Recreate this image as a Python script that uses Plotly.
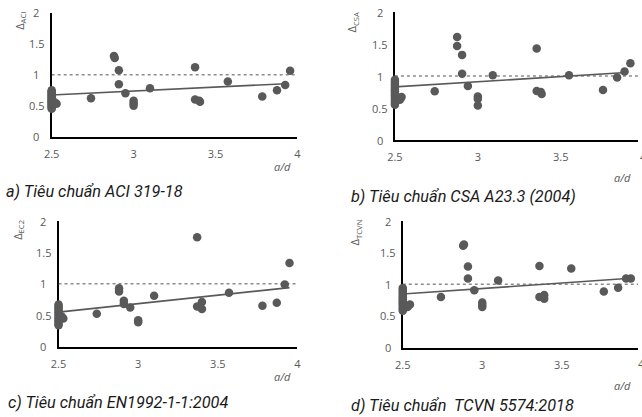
import plotly.graph_objects as go

W, H = 642, 417

# ---------------- data ----------------
A_X = [2.5]*16 + [2.52, 2.53,
       2.74, 2.88, 2.885, 2.91, 2.91, 2.95, 3.0, 3.0, 3.0, 3.10, 3.375, 3.375, 3.40, 3.405, 3.575, 3.785, 3.875, 3.925, 3.955]
A_Y = [0.75, 0.73, 0.71, 0.69, 0.67, 0.65, 0.63, 0.61, 0.59, 0.57, 0.55, 0.53, 0.51, 0.49, 0.47, 0.45, 0.55, 0.53,
       0.62, 1.30, 1.27, 1.07, 0.845, 0.70, 0.58, 0.54, 0.50, 0.78, 1.12, 0.60, 0.58, 0.565, 0.89, 0.65, 0.75, 0.835, 1.065]

B_X = [2.5]*14 + [2.54, 2.53,
       2.74, 2.875, 2.875, 2.905, 2.905, 2.94, 3.0, 3.0, 3.0, 3.09, 3.355, 3.355, 3.38, 3.385, 3.55, 3.755, 3.84, 3.885, 3.92]
B_Y = [0.94, 0.91, 0.88, 0.85, 0.82, 0.79, 0.76, 0.73, 0.70, 0.67, 0.64, 0.61, 0.58, 0.55, 0.67, 0.63,
       0.76, 1.61, 1.47, 1.33, 1.035, 0.845, 0.68, 0.64, 0.54, 1.01, 1.43, 0.765, 0.75, 0.72, 1.01, 0.78, 0.975, 1.07, 1.20]

C_X = [2.5]*12 + [2.53, 2.52,
       2.74, 2.88, 2.88, 2.91, 2.91, 2.95, 3.0, 3.0, 3.10, 3.37, 3.37, 3.40, 3.40, 3.57, 3.78, 3.87, 3.92, 3.95]
C_Y = [0.67, 0.64, 0.61, 0.58, 0.55, 0.52, 0.49, 0.46, 0.43, 0.40, 0.37, 0.34, 0.45, 0.48,
       0.525, 0.93, 0.88, 0.73, 0.68, 0.625, 0.42, 0.39, 0.81, 1.74, 0.64, 0.71, 0.60, 0.86, 0.65, 0.70, 0.99, 1.33]

D_X = [2.5]*13 + [2.545, 2.53,
       2.74, 2.88, 2.885, 2.91, 2.91, 2.95, 3.0, 3.0, 3.0, 3.10, 3.36, 3.36, 3.39, 3.39, 3.56, 3.765, 3.855, 3.905, 3.935]
D_Y = [0.94, 0.91, 0.88, 0.85, 0.82, 0.79, 0.76, 0.73, 0.70, 0.67, 0.64, 0.61, 0.58, 0.68, 0.64,
       0.80, 1.61, 1.63, 1.28, 1.09, 0.905, 0.71, 0.67, 0.64, 1.06, 1.29, 0.80, 0.83, 0.77, 1.25, 0.885, 0.945, 1.09, 1.09]

TREND_A_X, TREND_A_Y = [2.5, 3.93], [0.672, 0.855]
TREND_B_X, TREND_B_Y = [2.5, 3.87], [0.83, 1.05]
TREND_C_X, TREND_C_Y = [2.5, 3.95], [0.55, 0.94]
TREND_D_X, TREND_D_Y = [2.5, 3.91], [0.845, 1.09]

REF_X, REF_Y = [2.5, 4.0], [1.0, 1.0]

X_TICKS = [2.5, 3, 3.5, 4]
X_TICK_TEXT = ["2.5", "3", "3.5", "4"]
Y_TICKS = [0, 0.5, 1, 1.5, 2]
Y_TICK_TEXT = ["0", "0.5", "1", "1.5", "2"]

Y_TITLES = ["Δ<sub>ACI</sub>", "Δ<sub>CSA</sub>", "Δ<sub>EC2</sub>", "Δ<sub>TCVN</sub>"]
X_TITLE = "a/d"
CAPTIONS = ["a) Tiêu chuẩn ACI 319-18", "b) Tiêu chuẩn CSA A23.3 (2004)",
            "c) Tiêu chuẩn EN1992-1-1:2004", "d) Tiêu chuẩn  TCVN 5574:2018"]

# ---------------- layout geometry (pixels) ----------------
PANELS = [
    dict(xl=44.5, xr=295.0, xmax=4.0, yb=136.7, yt=12.7),
    dict(xl=394.3, xr=642.0, xmax=3.966, yb=140.0, yt=12.0),
    dict(xl=51.5, xr=295.0, xmax=4.0, yb=346.7, yt=221.0),
    dict(xl=402.3, xr=642.0, xmax=3.98, yb=347.5, yt=221.0),
]
YTITLE_POS = [(12, 21), (351, 22), (10, 230), (354, 232)]
XTITLE_POS = [(280, 167), (626, 177), (280, 376), (626, 385)]
CAPTION_POS = [(-4, 191), (347, 197), (-2, 402), (347, 405)]

MARK = "#595959"
TICK_COLOR = "#595959"
TICK_FONT = "Open Sans, Noto Sans, sans-serif"
CAP_FONT = "Roboto, Liberation Sans, sans-serif"

def px(x):
    return x / W

def py(y):
    return 1 - y / H

fig = go.Figure()
series = [(A_X, A_Y, TREND_A_X, TREND_A_Y), (B_X, B_Y, TREND_B_X, TREND_B_Y),
          (C_X, C_Y, TREND_C_X, TREND_C_Y), (D_X, D_Y, TREND_D_X, TREND_D_Y)]

annotations = []
for i, (xs, ys, tx, ty) in enumerate(series):
    n = "" if i == 0 else str(i + 1)
    xa, ya = "x" + n, "y" + n
    p = PANELS[i]
    fig.add_trace(go.Scatter(x=REF_X, y=REF_Y, mode="lines", xaxis=xa, yaxis=ya,
                             line=dict(color="#8c8c8c", width=1.5, dash="dot"), hoverinfo="skip"))
    fig.add_trace(go.Scatter(x=tx, y=ty, mode="lines", xaxis=xa, yaxis=ya,
                             line=dict(color=MARK, width=1.6), hoverinfo="skip"))
    fig.add_trace(go.Scatter(x=xs, y=ys, mode="markers", xaxis=xa, yaxis=ya, cliponaxis=False,
                             marker=dict(color=MARK, size=8.5, line=dict(width=0))))
    fig.layout["xaxis" + n] = dict(
        domain=[px(p["xl"]), px(p["xr"])], range=[2.5, p["xmax"]], anchor=ya,
        showgrid=False, zeroline=False, showline=True, linecolor="black", linewidth=2,
        ticks="", tickvals=X_TICKS, ticktext=X_TICK_TEXT, ticklabelstandoff=6,
        tickfont=dict(family=TICK_FONT, size=11, color=TICK_COLOR), layer="below traces")
    fig.layout["yaxis" + n] = dict(
        domain=[py(p["yb"]), py(p["yt"])], range=[0, 2], anchor=xa,
        showgrid=False, zeroline=False, showline=True, linecolor="black", linewidth=2,
        ticks="", showticklabels=False, layer="below traces")
    for v, t in zip(Y_TICKS, Y_TICK_TEXT):
        annotations.append(dict(x=px(p["xl"] - 15.5), xref="paper", y=v, yref=ya, text=t,
                                showarrow=False, xanchor="center", yanchor="middle",
                                font=dict(family=TICK_FONT, size=11, color=TICK_COLOR)))
    if p["xmax"] < 4:
        annotations.append(dict(x=px(p["xl"] + (4 - 2.5) * (p["xr"] - p["xl"]) / (p["xmax"] - 2.5)),
                                xref="paper", y=py(p["yb"] + 16), yref="paper", text="4",
                                showarrow=False, xanchor="center", yanchor="middle",
                                font=dict(family=TICK_FONT, size=11, color=TICK_COLOR)))
    annotations.append(dict(x=px(YTITLE_POS[i][0]), y=py(YTITLE_POS[i][1]), xref="paper", yref="paper",
                            text=Y_TITLES[i], textangle=-90, showarrow=False,
                            xanchor="center", yanchor="middle",
                            font=dict(family=TICK_FONT, size=11, color=TICK_COLOR)))
    annotations.append(dict(x=px(XTITLE_POS[i][0]), y=py(XTITLE_POS[i][1]), xref="paper", yref="paper",
                            text="<i>" + X_TITLE + "</i>", showarrow=False,
                            xanchor="center", yanchor="middle",
                            font=dict(family=TICK_FONT, size=11, color=TICK_COLOR)))
    annotations.append(dict(x=px(CAPTION_POS[i][0]), y=py(CAPTION_POS[i][1]), xref="paper", yref="paper",
                            text="<i>" + CAPTIONS[i] + "</i>", showarrow=False,
                            xanchor="left", yanchor="middle",
                            font=dict(family=CAP_FONT, size=16.3, color="#1a1a1a")))

fig.update_layout(width=W, height=H, margin=dict(l=0, r=0, t=0, b=0),
                  paper_bgcolor="white", plot_bgcolor="white", showlegend=False,
                  annotations=annotations)

fig.write_html("out.html", config={"displayModeBar": False},
               post_script="document.body.style.margin='0';")
